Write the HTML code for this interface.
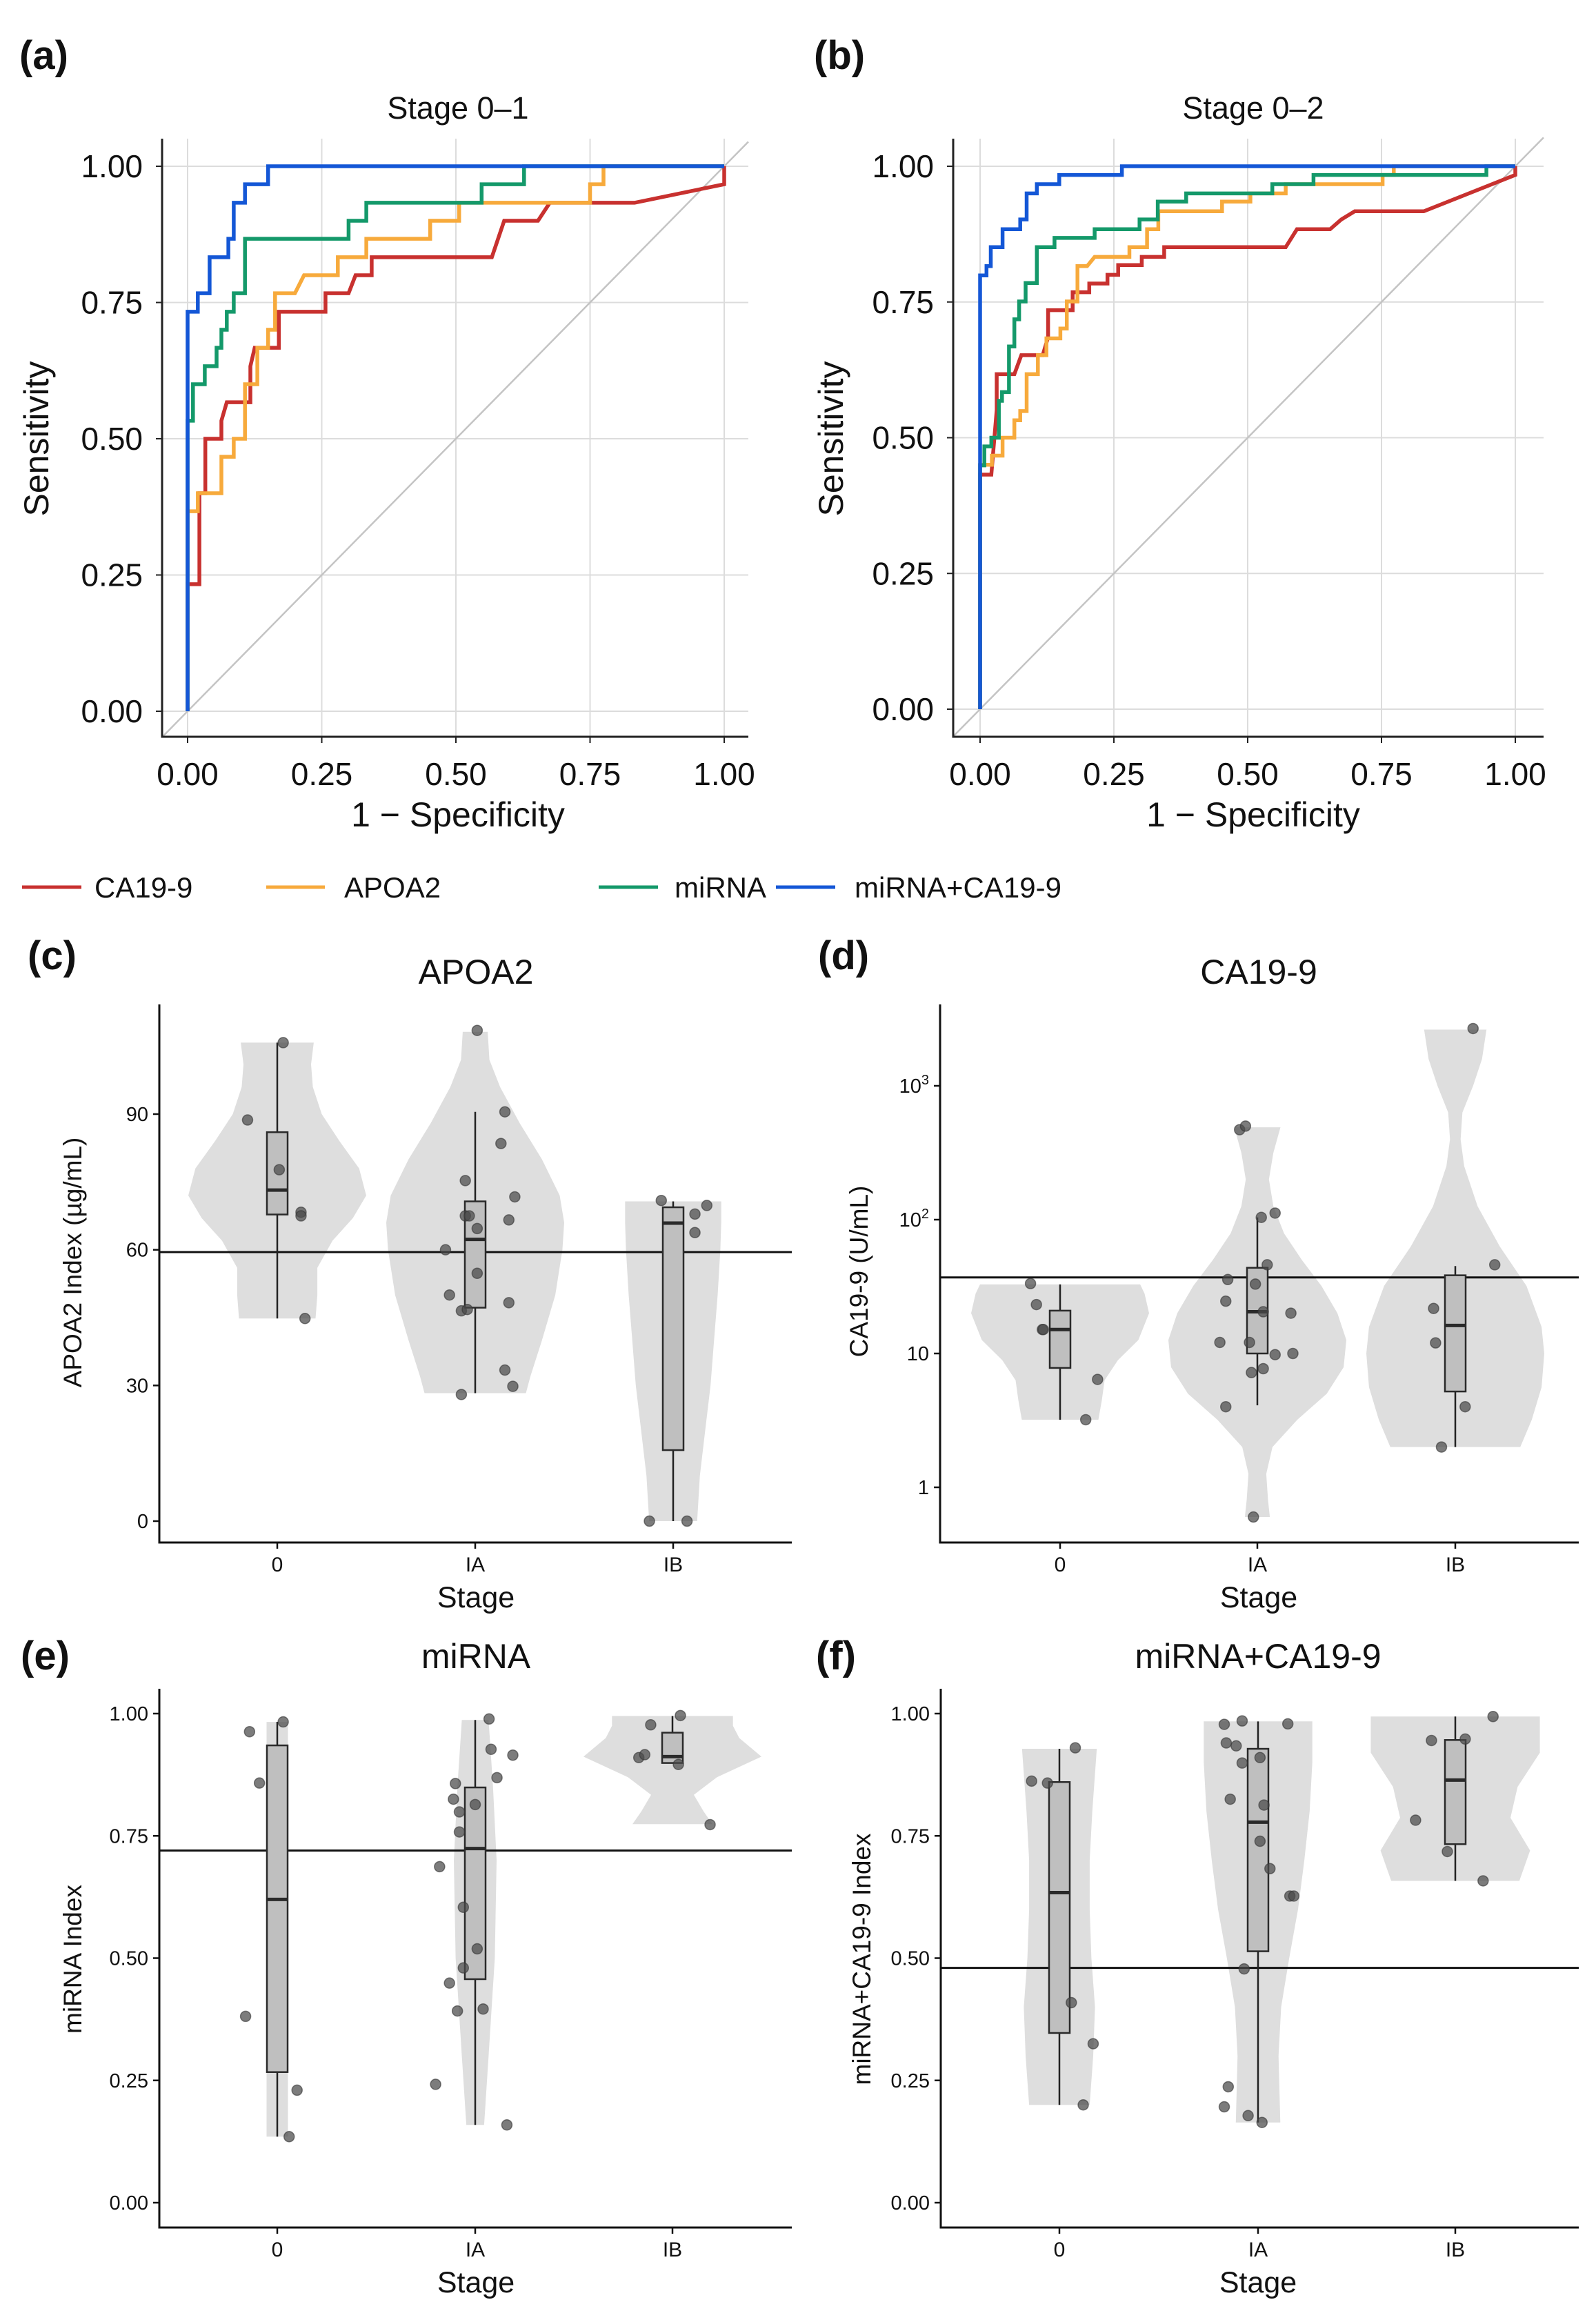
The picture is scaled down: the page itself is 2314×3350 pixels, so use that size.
<!DOCTYPE html>
<html><head><meta charset="utf-8"><style>
html,body{margin:0;padding:0;background:#fff}
svg{display:block}
text{font-family:"Liberation Sans",Arial,sans-serif;fill:#111}
</style></head><body>
<svg id="fig" xmlns="http://www.w3.org/2000/svg" width="2314" height="3350" viewBox="0 0 2314 3350">
<rect width="2314" height="3350" fill="#fff"/>
<g id="roc-a"></g>
<g id="roc-b"></g>
<g id="vc"></g>
<g id="vd"></g>
<g id="ve"></g>
<g id="vf"></g>

<text x="28" y="100" font-size="58" font-weight="bold">(a)</text>
<text x="1180" y="100" font-size="58" font-weight="bold">(b)</text>
<text x="40" y="1405" font-size="58" font-weight="bold">(c)</text>
<text x="1186" y="1405" font-size="58" font-weight="bold">(d)</text>
<text x="30" y="2420" font-size="58" font-weight="bold">(e)</text>
<text x="1183" y="2420" font-size="58" font-weight="bold">(f)</text>

<text x="664" y="172" font-size="45" text-anchor="middle">Stage 0–1</text>
<text x="1817" y="172" font-size="45" text-anchor="middle">Stage 0–2</text>
<text x="664" y="1198" font-size="50" text-anchor="middle">1 − Specificity</text>
<text x="1817" y="1198" font-size="50" text-anchor="middle">1 − Specificity</text>
<text transform="translate(70,636) rotate(-90)" font-size="50" text-anchor="middle">Sensitivity</text>
<text transform="translate(1222,636) rotate(-90)" font-size="50" text-anchor="middle">Sensitivity</text>

<g>
<line x1="32" y1="1286" x2="118" y2="1286" stroke="#C8312F" stroke-width="5"/>
<text x="137" y="1301" font-size="42">CA19-9</text>
<line x1="386" y1="1286" x2="471" y2="1286" stroke="#F7AA3C" stroke-width="5"/>
<text x="499" y="1301" font-size="42">APOA2</text>
<line x1="868" y1="1286" x2="954" y2="1286" stroke="#14996A" stroke-width="5"/>
<text x="978" y="1301" font-size="42">miRNA</text>
<line x1="1125" y1="1286" x2="1211" y2="1286" stroke="#1457D6" stroke-width="5"/>
<text x="1239" y="1301" font-size="42">miRNA+CA19-9</text>
</g>

<text x="690" y="1426" font-size="50" text-anchor="middle">APOA2</text>
<text x="1825" y="1426" font-size="50" text-anchor="middle">CA19-9</text>
<text x="690" y="2418" font-size="50" text-anchor="middle">miRNA</text>
<text x="1824" y="2418" font-size="50" text-anchor="middle">miRNA+CA19-9</text>
<text x="690" y="2330" font-size="43" text-anchor="middle">Stage</text>
<text x="1825" y="2330" font-size="43" text-anchor="middle">Stage</text>
<text x="690" y="3323" font-size="43" text-anchor="middle">Stage</text>
<text x="1824" y="3323" font-size="43" text-anchor="middle">Stage</text>
<text transform="translate(118,1830) rotate(-90)" font-size="37" text-anchor="middle">APOA2 Index (µg/mL)</text>
<text transform="translate(1258,1843) rotate(-90)" font-size="37" text-anchor="middle">CA19-9 (U/mL)</text>
<text transform="translate(118,2840) rotate(-90)" font-size="37" text-anchor="middle">miRNA Index</text>
<text transform="translate(1262,2840) rotate(-90)" font-size="37" text-anchor="middle">miRNA+CA19-9 Index</text>
</svg>
<script>
// ---------- ROC data (panel a: Stage 0-1) ----------
const rocTicks = [0, 0.25, 0.5, 0.75, 1];
const rocTickLabels = ["0.00", "0.25", "0.50", "0.75", "1.00"];
const rocSeriesNames = ["CA19-9", "APOA2", "miRNA", "miRNA+CA19-9"];
const a_ca199_fpr = [0,0,0.022,0.022,0.033,0.033,0.063,0.063,0.073,0.117,0.117,0.125,0.170,0.170,0.257,0.257,0.300,0.313,0.343,0.343,0.567,0.590,0.653,0.675,0.833,1,1];
const a_ca199_tpr = [0,0.233,0.233,0.4,0.4,0.5,0.5,0.533,0.567,0.567,0.633,0.667,0.667,0.733,0.733,0.767,0.767,0.8,0.8,0.833,0.833,0.9,0.9,0.933,0.933,0.967,1];
const a_apoa2_fpr = [0,0,0.019,0.019,0.063,0.063,0.086,0.086,0.107,0.107,0.130,0.130,0.150,0.150,0.163,0.163,0.200,0.217,0.280,0.280,0.333,0.333,0.452,0.452,0.506,0.506,0.750,0.750,0.775,0.775,1];
const a_apoa2_tpr = [0,0.367,0.367,0.4,0.4,0.467,0.467,0.5,0.5,0.6,0.6,0.667,0.667,0.7,0.7,0.767,0.767,0.8,0.8,0.833,0.833,0.867,0.867,0.9,0.9,0.933,0.933,0.967,0.967,1,1];
const a_mirna_fpr = [0,0,0.010,0.010,0.032,0.032,0.054,0.054,0.063,0.063,0.073,0.073,0.086,0.086,0.107,0.107,0.300,0.300,0.333,0.333,0.548,0.548,0.627,0.627,1];
const a_mirna_tpr = [0,0.533,0.533,0.6,0.6,0.633,0.633,0.667,0.667,0.7,0.7,0.733,0.733,0.767,0.767,0.867,0.867,0.9,0.9,0.933,0.933,0.967,0.967,1,1];
const a_comb_fpr = [0,0,0.019,0.019,0.041,0.041,0.076,0.076,0.086,0.086,0.107,0.107,0.150,0.150,1];
const a_comb_tpr = [0,0.733,0.733,0.767,0.767,0.833,0.833,0.867,0.867,0.933,0.933,0.967,0.967,1,1];
// ---------- ROC data (panel b: Stage 0-2) ----------
const b_ca199_fpr = [0,0,0.021,0.031,0.031,0.064,0.077,0.117,0.127,0.127,0.173,0.173,0.204,0.204,0.238,0.238,0.258,0.258,0.302,0.302,0.344,0.344,0.571,0.592,0.654,0.675,0.700,0.829,1,1];
const b_ca199_tpr = [0,0.432,0.432,0.551,0.617,0.617,0.652,0.652,0.685,0.735,0.735,0.768,0.768,0.784,0.784,0.800,0.800,0.818,0.818,0.833,0.833,0.851,0.851,0.884,0.884,0.902,0.917,0.917,0.984,1];
const b_apoa2_fpr = [0,0,0.022,0.022,0.042,0.042,0.064,0.064,0.075,0.075,0.087,0.087,0.108,0.108,0.124,0.124,0.150,0.150,0.162,0.162,0.182,0.182,0.200,0.214,0.279,0.279,0.312,0.312,0.333,0.333,0.452,0.452,0.505,0.505,0.571,0.571,0.752,0.752,0.773,0.773,1];
const b_apoa2_tpr = [0,0.45,0.45,0.467,0.467,0.5,0.5,0.532,0.532,0.549,0.549,0.617,0.617,0.652,0.652,0.683,0.683,0.701,0.701,0.751,0.751,0.816,0.816,0.833,0.833,0.851,0.851,0.884,0.884,0.917,0.917,0.935,0.935,0.950,0.950,0.967,0.967,0.984,0.984,1,1];
const b_mirna_fpr = [0,0,0.008,0.008,0.021,0.021,0.035,0.035,0.041,0.041,0.054,0.054,0.064,0.064,0.073,0.073,0.085,0.085,0.106,0.106,0.139,0.139,0.214,0.214,0.298,0.298,0.332,0.332,0.385,0.385,0.546,0.546,0.623,0.623,0.946,0.946,1];
const b_mirna_tpr = [0,0.449,0.449,0.484,0.484,0.5,0.5,0.568,0.568,0.584,0.584,0.668,0.668,0.718,0.718,0.751,0.751,0.785,0.785,0.851,0.851,0.868,0.868,0.884,0.884,0.902,0.902,0.935,0.935,0.950,0.950,0.967,0.967,0.984,0.984,1,1];
const b_comb_fpr = [0,0,0.012,0.012,0.020,0.020,0.042,0.042,0.075,0.075,0.087,0.087,0.106,0.106,0.148,0.148,0.265,0.265,1];
const b_comb_tpr = [0,0.799,0.799,0.816,0.816,0.851,0.851,0.884,0.884,0.902,0.902,0.950,0.950,0.967,0.967,0.984,0.984,1,1];

// ---------- Violin panel data ----------
const stages = ["0", "IA", "IB"];
// (c) APOA2
const c_ticks = [0, 30, 60, 90];
const c_threshold = 59.5;
const c_box_q1 = [67.8, 47.2, 15.7];
const c_box_med = [73.2, 62.3, 65.9];
const c_box_q3 = [86.0, 70.7, 69.4];
const c_box_lo = [44.8, 28.3, 0];
const c_box_hi = [105.8, 90.5, 70.7];
const c_pts_0 = [105.8, 88.7, 77.7, 68.3, 67.5, 44.8];
const c_jit_0 = [0.03, -0.15, 0.01, 0.12, 0.12, 0.14];
const c_pts_IA = [108.5, 90.5, 83.5, 75.3, 71.7, 67.5, 67.5, 64.7, 66.6, 60, 54.8, 50, 48.3, 46.5, 46.8, 33.4, 29.8, 28.0];
const c_jit_IA = [0.01, 0.15, 0.13, -0.05, 0.2, -0.05, -0.03, 0.01, 0.17, -0.15, 0.01, -0.13, 0.17, -0.07, -0.04, 0.15, 0.19, -0.07];
const c_pts_IB = [70.9, 69.8, 67.9, 63.8, 0, 0];
const c_jit_IB = [-0.06, 0.17, 0.11, 0.11, -0.12, 0.07];
const c_vio_v_0 = [44.8, 50, 56, 62, 67, 72, 78, 84, 90, 96, 101, 105.8];
const c_vio_d_0 = [0.43, 0.45, 0.45, 0.62, 0.85, 1.0, 0.92, 0.7, 0.5, 0.4, 0.38, 0.41];
const c_vio_v_IA = [28.3, 32, 40, 50, 60, 66, 72, 80, 88, 96, 102, 108.2];
const c_vio_d_IA = [0.57, 0.62, 0.75, 0.9, 0.98, 1.0, 0.95, 0.75, 0.5, 0.28, 0.16, 0.14];
const c_vio_v_IB = [0, 10, 20, 30, 40, 50, 60, 66, 70.7];
const c_vio_d_IB = [0.27, 0.3, 0.36, 0.42, 0.46, 0.5, 0.53, 0.54, 0.54];
// (d) CA19-9 (log scale)
const d_ticks = [1, 10, 100, 1000];
const d_threshold = 37;
const d_box_q1 = [7.8, 10, 5.2];
const d_box_med = [15.1, 20.5, 16.2];
const d_box_q3 = [20.9, 43.7, 38.4];
const d_box_lo = [3.2, 4.1, 2.0];
const d_box_hi = [32.8, 104, 45];
const d_pts_0 = [33.3, 23.2, 15.1, 15.1, 6.4, 3.2];
const d_jit_0 = [-0.15, -0.12, -0.09, -0.085, 0.19, 0.13];
const d_pts_IA = [470, 500, 112, 104, 46, 35.7, 33, 24.6, 20.5, 20, 12.1, 12.1, 9.8, 10, 7.2, 7.7, 4.0, 0.6];
const d_jit_IA = [-0.09, -0.06, 0.09, 0.02, 0.05, -0.15, -0.01, -0.16, 0.03, 0.17, -0.19, -0.04, 0.09, 0.18, -0.03, 0.03, -0.16, -0.02];
const d_pts_IB = [2680, 46, 21.7, 12, 4, 2];
const d_jit_IB = [0.09, 0.2, -0.11, -0.1, 0.05, -0.07];
const d_vio_v_0 = [3.2, 4.5, 6.3, 8.9, 12.6, 20, 28, 32.8];
const d_vio_d_0 = [0.43, 0.47, 0.5, 0.65, 0.88, 1.0, 0.95, 0.9];
const d_vio_v_IA = [0.6, 0.8, 1.26, 2, 3.2, 5, 7.9, 12.6, 20, 32, 50, 79, 126, 200, 316, 490];
const d_vio_d_IA = [0.14, 0.12, 0.1, 0.17, 0.45, 0.78, 0.97, 1.0, 0.9, 0.72, 0.5, 0.3, 0.18, 0.13, 0.18, 0.26];
const d_vio_v_IB = [2.0, 3.2, 5.6, 10, 15.8, 32, 63, 126, 251, 398, 631, 1000, 1585, 2630];
const d_vio_d_IB = [0.73, 0.86, 0.97, 1.0, 0.97, 0.8, 0.5, 0.25, 0.1, 0.06, 0.08, 0.2, 0.3, 0.35];
// (e) miRNA
const e_ticks = [0, 0.25, 0.5, 0.75, 1];
const e_threshold = 0.72;
const e_box_q1 = [0.267, 0.457, 0.899];
const e_box_med = [0.62, 0.724, 0.912];
const e_box_q3 = [0.935, 0.849, 0.961];
const e_box_lo = [0.135, 0.159, 0.899];
const e_box_hi = [0.983, 0.987, 0.995];
const e_pts_0 = [0.963, 0.983, 0.858, 0.381, 0.23, 0.135];
const e_jit_0 = [-0.14, 0.03, -0.09, -0.16, 0.1, 0.06];
const e_pts_IA = [0.989, 0.927, 0.915, 0.869, 0.857, 0.825, 0.814, 0.799, 0.758, 0.687, 0.604, 0.519, 0.48, 0.449, 0.392, 0.396, 0.242, 0.159];
const e_jit_IA = [0.07, 0.08, 0.19, 0.11, -0.1, -0.11, 0, -0.08, -0.08, -0.18, -0.06, 0.01, -0.06, -0.13, -0.09, 0.04, -0.2, 0.16];
const e_pts_IB = [0.996, 0.977, 0.910, 0.916, 0.896, 0.773];
const e_jit_IB = [0.04, -0.11, -0.17, -0.14, 0.03, 0.19];
const e_vio_v_0 = [0.135, 0.5, 0.983];
const e_vio_d_0 = [0.12, 0.12, 0.12];
const e_vio_v_IA = [0.159, 0.3, 0.5, 0.7, 0.85, 0.987];
const e_vio_d_IA = [0.1, 0.15, 0.22, 0.24, 0.2, 0.15];
const e_vio_v_IB = [0.774, 0.8, 0.834, 0.87, 0.912, 0.95, 0.975, 0.995];
const e_vio_d_IB = [0.45, 0.35, 0.24, 0.5, 1.0, 0.75, 0.68, 0.68];
// (f) miRNA+CA19-9
const f_ticks = [0, 0.25, 0.5, 0.75, 1];
const f_threshold = 0.48;
const f_box_q1 = [0.347, 0.514, 0.733];
const f_box_med = [0.634, 0.778, 0.864];
const f_box_q3 = [0.86, 0.928, 0.946];
const f_box_lo = [0.2, 0.164, 0.658];
const f_box_hi = [0.928, 0.984, 0.994];
const f_pts_0 = [0.93, 0.862, 0.858, 0.409, 0.325, 0.2];
const f_jit_0 = [0.08, -0.14, -0.06, 0.06, 0.17, 0.12];
const f_pts_IA = [0.985, 0.978, 0.979, 0.94, 0.934, 0.91, 0.899, 0.825, 0.813, 0.739, 0.683, 0.627, 0.627, 0.478, 0.237, 0.196, 0.178, 0.164];
const f_jit_IA = [-0.08, -0.17, 0.15, -0.16, -0.11, 0.01, -0.08, -0.14, 0.03, 0.01, 0.06, 0.16, 0.18, -0.07, -0.15, -0.17, -0.05, 0.02];
const f_pts_IB = [0.994, 0.945, 0.948, 0.782, 0.718, 0.658];
const f_jit_IB = [0.19, -0.12, 0.05, -0.2, -0.04, 0.14];
const f_vio_v_0 = [0.2, 0.3, 0.4, 0.5, 0.6, 0.7, 0.8, 0.928];
const f_vio_d_0 = [0.34, 0.38, 0.4, 0.36, 0.34, 0.34, 0.37, 0.42];
const f_vio_v_IA = [0.164, 0.3, 0.4, 0.5, 0.6, 0.7, 0.8, 0.9, 0.984];
const f_vio_d_IA = [0.25, 0.23, 0.26, 0.35, 0.45, 0.52, 0.58, 0.61, 0.61];
const f_vio_v_IB = [0.658, 0.72, 0.787, 0.85, 0.92, 0.994];
const f_vio_d_IB = [0.72, 0.84, 0.62, 0.7, 0.95, 0.95];

const NS = "http://www.w3.org/2000/svg";
function mk(parent, tag, attrs) {
  const el = document.createElementNS(NS, tag);
  for (const k in attrs) el.setAttribute(k, attrs[k]);
  parent.appendChild(el);
  return el;
}

// ---------- ROC drawing ----------
function drawRoc(gid, geom, series) {
  const g = document.getElementById(gid);
  const xs = f => geom.x0 + f * (geom.x1 - geom.x0);
  const ys = t => geom.y0 - t * (geom.y0 - geom.y1);
  rocTicks.forEach((t, i) => {
    const gx = mk(g, "line", {x1: xs(t), x2: xs(t), y1: geom.top, y2: geom.bottom, stroke: "#dcdcdc", "stroke-width": 2});
    
    
    const gy = mk(g, "line", {x1: geom.left, x2: geom.right, y1: ys(t), y2: ys(t), stroke: "#dcdcdc", "stroke-width": 2});
    
    
    const tx = mk(g, "text", {x: xs(t), y: 1138, "font-size": 46, "text-anchor": "middle"});
    tx.textContent = rocTickLabels[i];
    
    
    const ty = mk(g, "text", {x: geom.left - 28, y: ys(t) + 16, "font-size": 46, "text-anchor": "end"});
    ty.textContent = rocTickLabels[i];
    
    
    const tk1 = mk(g, "line", {x1: xs(t), x2: xs(t), y1: geom.bottom, y2: geom.bottom + 9, stroke: "#222", "stroke-width": 2});
    
    
    const tk2 = mk(g, "line", {x1: geom.left - 9, x2: geom.left, y1: ys(t), y2: ys(t), stroke: "#222", "stroke-width": 2});
    
    
  });
  const lo = (geom.left - geom.x0) / (geom.x1 - geom.x0);
  const hi = (geom.right - geom.x0) / (geom.x1 - geom.x0);
  const dg = mk(g, "line", {x1: xs(lo), y1: ys(lo), x2: xs(hi), y2: ys(hi), stroke: "#c4c4c4", "stroke-width": 2.5});
  
  
  series.forEach(s => {
    const pts = s.fpr.map((f, i) => xs(f).toFixed(1) + "," + ys(s.tpr[i]).toFixed(1)).join(" ");
    const pl = mk(g, "polyline", {points: pts, fill: "none", stroke: s.color, "stroke-width": 5.5, "stroke-linejoin": "miter"});
    
    
  });
  const ax = mk(g, "path", {d: `M${geom.left},${geom.top} V${geom.bottom} H${geom.right}`, fill: "none", stroke: "#222", "stroke-width": 3});
  
  
}
const colors = {ca199: "#C8312F", apoa2: "#F7AA3C", mirna: "#14996A", comb: "#1457D6"};
drawRoc("roc-a", {x0: 272, x1: 1050, y0: 1031, y1: 241, left: 235, right: 1085, top: 201, bottom: 1068}, [
  {key: "ca199", color: colors.ca199, fpr: a_ca199_fpr, tpr: a_ca199_tpr},
  {key: "apoa2", color: colors.apoa2, fpr: a_apoa2_fpr, tpr: a_apoa2_tpr},
  {key: "mirna", color: colors.mirna, fpr: a_mirna_fpr, tpr: a_mirna_tpr},
  {key: "mirna-ca199", color: colors.comb, fpr: a_comb_fpr, tpr: a_comb_tpr}
]);
drawRoc("roc-b", {x0: 1421, x1: 2197, y0: 1028, y1: 241, left: 1382, right: 2238, top: 201, bottom: 1068}, [
  {key: "ca199", color: colors.ca199, fpr: b_ca199_fpr, tpr: b_ca199_tpr},
  {key: "apoa2", color: colors.apoa2, fpr: b_apoa2_fpr, tpr: b_apoa2_tpr},
  {key: "mirna", color: colors.mirna, fpr: b_mirna_fpr, tpr: b_mirna_tpr},
  {key: "mirna-ca199", color: colors.comb, fpr: b_comb_fpr, tpr: b_comb_tpr}
]);

// ---------- Violin drawing ----------
function drawViolin(gid, P) {
  const g = document.getElementById(gid);
  const W = 129, spacing = P.cats[1] - P.cats[0];
  P.vio.forEach((v, k) => {
    const cx = P.cats[k];
    const right = v.v.map((val, i) => (cx + v.d[i] * W).toFixed(1) + "," + P.ys(val).toFixed(1));
    const left = v.v.map((val, i) => (cx - v.d[i] * W).toFixed(1) + "," + P.ys(val).toFixed(1)).reverse();
    const pg = mk(g, "polygon", {points: right.concat(left).join(" "), fill: "#dedede", stroke: "none"});
    
    
  });
  const th = mk(g, "line", {x1: P.left, x2: P.right, y1: P.ys(P.threshold), y2: P.ys(P.threshold), stroke: "#111", "stroke-width": 3});
  
  
  stages.forEach((s, k) => {
    const cx = P.cats[k], bw = 15;
    const wl = mk(g, "line", {x1: cx, x2: cx, y1: P.ys(P.lo[k]), y2: P.ys(P.hi[k]), stroke: "#222", "stroke-width": 2.5});
    
    
    const yq3 = P.ys(P.q3[k]), yq1 = P.ys(P.q1[k]);
    const bx = mk(g, "rect", {x: cx - bw, y: yq3, width: 2 * bw, height: yq1 - yq3, fill: "#bfbfbf", stroke: "#2a2a2a", "stroke-width": 2.5});
    
    
    const md = mk(g, "line", {x1: cx - bw, x2: cx + bw, y1: P.ys(P.med[k]), y2: P.ys(P.med[k]), stroke: "#2a2a2a", "stroke-width": 5});
    
    
  });
  P.pts.forEach((arr, k) => {
    arr.forEach((val, i) => {
      const c = mk(g, "circle", {cx: P.cats[k] + P.jit[k][i] * spacing, cy: P.ys(val), r: 7.5, fill: "#4a4a4a", "fill-opacity": 0.72, stroke: "#333", "stroke-opacity": 0.6, "stroke-width": 1.5});
      
      
    });
  });
  const ax = mk(g, "path", {d: `M${P.left},${P.top} V${P.bottom} H${P.right}`, fill: "none", stroke: "#111", "stroke-width": 3});
  
  
  P.ticks.forEach((t, i) => {
    const y = P.ys(t);
    const tk = mk(g, "line", {x1: P.left - 9, x2: P.left, y1: y, y2: y, stroke: "#111", "stroke-width": 2.5});
    
    
    const tl = mk(g, "text", {x: P.left - 16, y: y + 10, "font-size": 29, "text-anchor": "end", fill: "#222"});
    P.label(tl, t);
    
    
  });
  stages.forEach((s, k) => {
    const tk = mk(g, "line", {x1: P.cats[k], x2: P.cats[k], y1: P.bottom, y2: P.bottom + 9, stroke: "#111", "stroke-width": 2.5});
    
    
    const tl = mk(g, "text", {x: P.cats[k], y: P.bottom + 42, "font-size": 30, "text-anchor": "middle", fill: "#222"});
    tl.textContent = s;
    
    
  });
}
const plainLabel = (el, t) => { el.textContent = String(t); };
const fixedLabel = (el, t) => { el.textContent = t.toFixed(2); };
const logLabel = (el, t) => {
  const e = Math.round(Math.log10(t));
  if (e <= 1) { el.textContent = String(t); return; }
  el.textContent = "10";
  const sp = document.createElementNS(NS, "tspan");
  sp.setAttribute("dy", "-12");
  sp.setAttribute("font-size", "20");
  sp.textContent = String(e);
  el.appendChild(sp);
};
drawViolin("vc", {left: 231, right: 1148, top: 1456, bottom: 2236, cats: [402, 689, 976],
  ys: v => 2205 - v * (590 / 90), ticks: c_ticks, label: plainLabel, threshold: c_threshold,
  q1: c_box_q1, med: c_box_med, q3: c_box_q3, lo: c_box_lo, hi: c_box_hi,
  pts: [c_pts_0, c_pts_IA, c_pts_IB], jit: [c_jit_0, c_jit_IA, c_jit_IB],
  vio: [{v: c_vio_v_0, d: c_vio_d_0}, {v: c_vio_v_IA, d: c_vio_d_IA}, {v: c_vio_v_IB, d: c_vio_d_IB}]});
drawViolin("vd", {left: 1363, right: 2289, top: 1456, bottom: 2236, cats: [1537, 1823, 2110],
  ys: v => 2156 - Math.log10(v) * 194, ticks: d_ticks, label: logLabel, threshold: d_threshold,
  q1: d_box_q1, med: d_box_med, q3: d_box_q3, lo: d_box_lo, hi: d_box_hi,
  pts: [d_pts_0, d_pts_IA, d_pts_IB], jit: [d_jit_0, d_jit_IA, d_jit_IB],
  vio: [{v: d_vio_v_0, d: d_vio_d_0}, {v: d_vio_v_IA, d: d_vio_d_IA}, {v: d_vio_v_IB, d: d_vio_d_IB}]});
drawViolin("ve", {left: 231, right: 1148, top: 2448, bottom: 3229, cats: [402, 689, 975],
  ys: v => 3193 - v * 709, ticks: e_ticks, label: fixedLabel, threshold: e_threshold,
  q1: e_box_q1, med: e_box_med, q3: e_box_q3, lo: e_box_lo, hi: e_box_hi,
  pts: [e_pts_0, e_pts_IA, e_pts_IB], jit: [e_jit_0, e_jit_IA, e_jit_IB],
  vio: [{v: e_vio_v_0, d: e_vio_d_0}, {v: e_vio_v_IA, d: e_vio_d_IA}, {v: e_vio_v_IB, d: e_vio_d_IB}]});
drawViolin("vf", {left: 1364, right: 2289, top: 2448, bottom: 3229, cats: [1536, 1824, 2110],
  ys: v => 3193 - v * 709, ticks: f_ticks, label: fixedLabel, threshold: f_threshold,
  q1: f_box_q1, med: f_box_med, q3: f_box_q3, lo: f_box_lo, hi: f_box_hi,
  pts: [f_pts_0, f_pts_IA, f_pts_IB], jit: [f_jit_0, f_jit_IA, f_jit_IB],
  vio: [{v: f_vio_v_0, d: f_vio_d_0}, {v: f_vio_v_IA, d: f_vio_d_IA}, {v: f_vio_v_IB, d: f_vio_d_IB}]});
</script>
</body></html>
